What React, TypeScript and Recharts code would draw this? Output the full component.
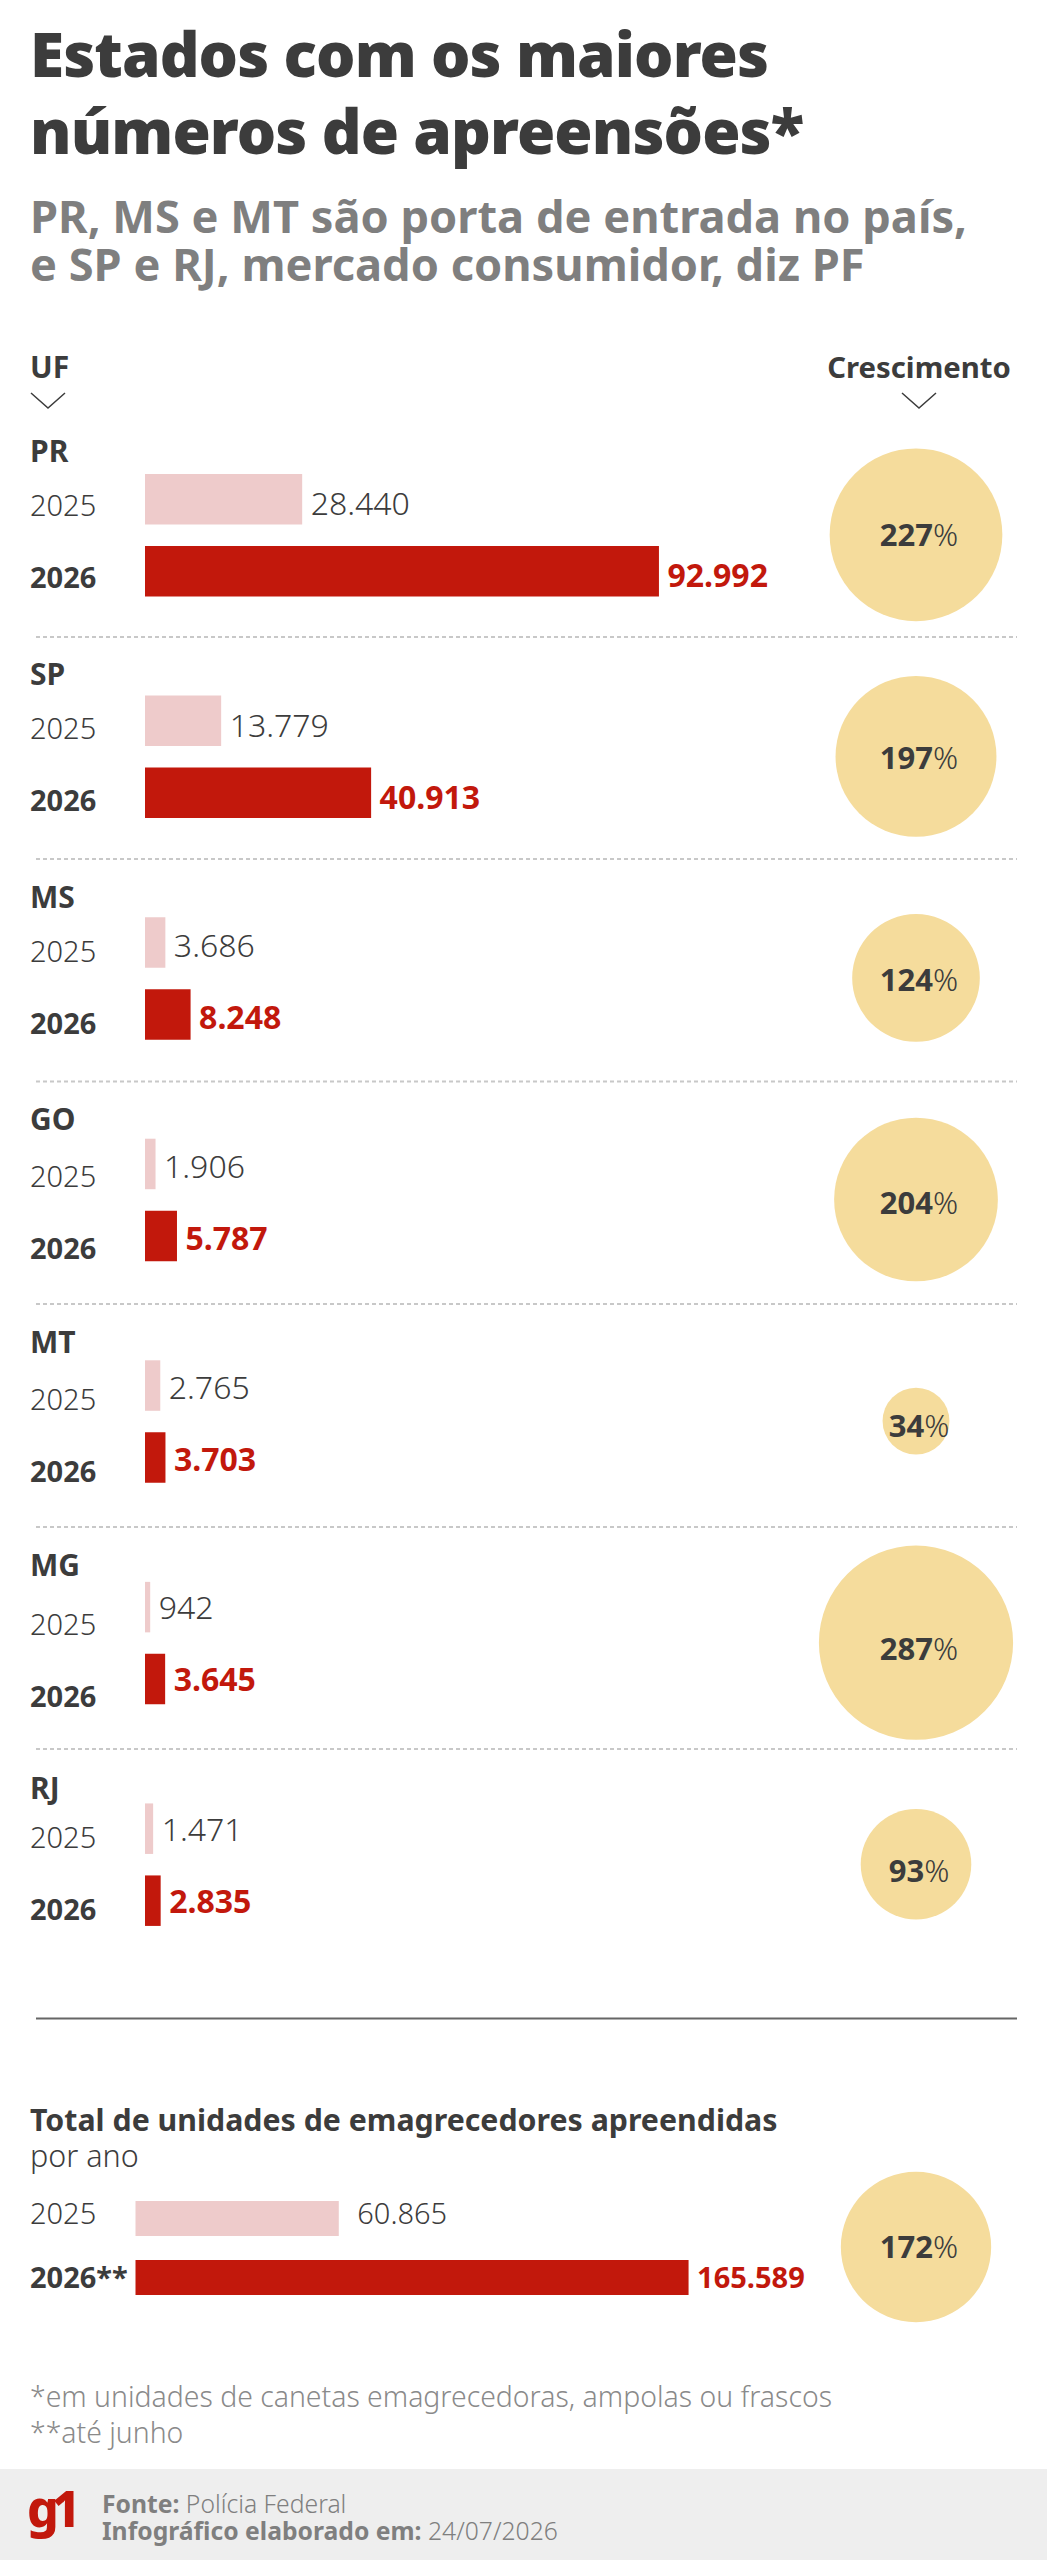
import React from 'react';
import {
  Bar,
  BarChart,
  Cell,
  LabelList,
  Scatter,
  ScatterChart,
  XAxis,
  YAxis,
  ZAxis,
} from 'recharts';

const ufs = ['PR', 'SP', 'MS', 'GO', 'MT', 'MG', 'RJ'];
const values2025 = [28440, 13779, 3686, 1906, 2765, 942, 1471];
const values2026 = [92992, 40913, 8248, 5787, 3703, 3645, 2835];
const growth = [227, 197, 124, 204, 34, 287, 93];

const totalYears = ['2025', '2026**'];
const totalValues = [60865, 165589];
const totalGrowth = 172;

const CHART_TOP = 424;
const ufBaselines = [462, 685, 908, 1130, 1353, 1576, 1799];
const yearOffsets = [17, 19, 20.5, 23, 24.5, 28, 20];
const valueOffsets = [16, 16, 15, 14.5, 13, 11.5, 12];
const pctOffsets = [11, 12.6, 13.4, 14, 16.4, 17, 17.6];
const separators = [637, 859, 1081.5, 1304, 1527, 1749];

const FONT = '"Noto Sans", sans-serif';
const DARK = '#3c3c3c';
const GREY = '#7f7f7f';
const RED = '#c2180c';
const PINK = '#eecbcb';
const SAND = '#f5dc9c';

const rows = ufs.map((uf, i) => ({
  uf,
  column: 'Crescimento',
  v2025: values2025[i],
  v2026: values2026[i],
  growth: growth[i],
}));
const totalRows = totalYears.map((year, i) => ({ year, value: totalValues[i] }));
const totalCircle = [{ uf: 'Total', column: 'Crescimento', growth: totalGrowth }];

const fmt = (n: number) => String(n).replace(/\B(?=(\d{3})+$)/g, '.');

function StateTick({ y, index }: any) {
  const yearY = yearOffsets[index];
  return (
    <g fontFamily={FONT}>
      <text x={30} y={ufBaselines[index] - CHART_TOP} fontSize={30} fontWeight={700} fill={DARK}>
        {ufs[index]}
      </text>
      <text x={30} y={y - 36 + yearY} fontSize={29} fontWeight={300} fill={DARK}>
        2025
      </text>
      <text x={30} y={y + 36 + yearY} fontSize={29} fontWeight={700} fill={DARK}>
        2026
      </text>
    </g>
  );
}

function ValueLabel({ x, y, width, height, value, index, color, weight }: any) {
  return (
    <text
      x={x + width + 8.5}
      y={y + height / 2 + valueOffsets[index]}
      fontFamily={FONT}
      fontSize={32}
      fontWeight={weight}
      fill={color}
    >
      {fmt(value)}
    </text>
  );
}

function PctLabel({ x, y, width, height, value, dy }: any) {
  return (
    <text
      x={x + width / 2 + 3}
      y={y + height / 2 + dy}
      textAnchor="middle"
      fontFamily={FONT}
      fontSize={31}
      fill={DARK}
    >
      <tspan fontWeight={700}>{value}</tspan>
      <tspan fontWeight={300}>%</tspan>
    </text>
  );
}

function TotalTick({ y, payload, index }: any) {
  return (
    <text
      x={30}
      y={y + 5.5 + (index === 0 ? 0 : 5)}
      fontFamily={FONT}
      fontSize={29}
      fontWeight={index === 0 ? 300 : 700}
      fill={DARK}
    >
      {payload.value}
    </text>
  );
}

function TotalValueLabel({ x, y, width, height, value, index }: any) {
  return (
    <text
      x={x + width + (index === 0 ? 18.5 : 8.5)}
      y={y + height / 2 + 5.5 + (index === 0 ? 0 : 5)}
      fontFamily={FONT}
      fontSize={29}
      fontWeight={index === 0 ? 300 : 700}
      fill={index === 0 ? DARK : RED}
    >
      {fmt(value)}
    </text>
  );
}

function Backdrop() {
  return (
    <svg width={1047} height={2560} style={{ position: 'absolute', left: 0, top: 0 }} fontFamily={FONT}>
      <text x={30} y={77} fontSize={62} fontWeight={900} fill={DARK} letterSpacing={-0.9}>Estados com os maiores</text>
      <text x={30} y={154} fontSize={62} fontWeight={900} fill={DARK} letterSpacing={-0.9}>números de apreensões*</text>
      <text x={30} y={233} fontSize={45.2} fontWeight={700} fill={GREY}>PR, MS e MT são porta de entrada no país,</text>
      <text x={30} y={281} fontSize={45.2} fontWeight={700} fill={GREY}>e SP e RJ, mercado consumidor, diz PF</text>

      <text x={30} y={377.5} fontSize={30} fontWeight={700} fill={DARK}>UF</text>
      <text x={919} y={377.5} fontSize={29.3} fontWeight={700} fill={DARK} textAnchor="middle">Crescimento</text>
      <polyline points="31,393 48,408 65,393" fill="none" stroke={DARK} strokeWidth={1.5} />
      <polyline points="902,393 919,408 936,393" fill="none" stroke={DARK} strokeWidth={1.5} />

      {separators.map((y) => (
        <line key={y} x1={36} x2={1017} y1={y} y2={y} stroke="#c8c8c8" strokeWidth={2} strokeDasharray="4 3" />
      ))}
      <line x1={36} x2={1017} y1={2018.5} y2={2018.5} stroke="#666666" strokeWidth={2} />

      <text x={30} y={2130.5} fontSize={30.3} fontWeight={700} fill={DARK}>Total de unidades de emagrecedores apreendidas</text>
      <text x={30} y={2167} fontSize={30.5} fontWeight={300} fill={DARK}>por ano</text>

      <text x={30} y={2406.5} fontSize={28.4} fontWeight={300} fill="#8a8a8a">*em unidades de canetas emagrecedoras, ampolas ou frascos</text>
      <text x={30} y={2442.5} fontSize={28.4} fontWeight={300} fill="#8a8a8a">**até junho</text>

      <rect x={0} y={2469} width={1047} height={91} fill="#eeeeee" />
      <text x={27} y={2527} fontSize={50} fontWeight={800} fill={RED} letterSpacing={-7}>g1</text>
      <text x={102} y={2512.5} fontSize={24.7} fill={GREY}>
        <tspan fontWeight={700}>Fonte: </tspan>
        <tspan fontWeight={300}>Polícia Federal</tspan>
      </text>
      <text x={102} y={2540} fontSize={24.7} fill={GREY}>
        <tspan fontWeight={700}>Infográfico elaborado em: </tspan>
        <tspan fontWeight={300}>24/07/2026</tspan>
      </text>
    </svg>
  );
}

export default function App() {
  return (
    <div
      style={{
        position: 'absolute',
        left: 0,
        top: 0,
        width: 1047,
        height: 2560,
        overflow: 'hidden',
        background: '#ffffff',
      }}
    >
      <Backdrop />

      <div style={{ position: 'absolute', left: 0, top: CHART_TOP }}>
        <BarChart
          width={800}
          height={1551}
          data={rows}
          layout="vertical"
          margin={{ top: 0, right: 36, bottom: 0, left: 0 }}
          barSize={50.5}
          barGap={21.5}
        >
          <XAxis type="number" domain={[0, 112000]} hide />
          <YAxis
            type="category"
            dataKey="uf"
            width={145}
            axisLine={false}
            tickLine={false}
            interval={0}
            tick={<StateTick />}
          />
          <Bar dataKey="v2025" fill={PINK} isAnimationActive={false}>
            <LabelList dataKey="v2025" content={<ValueLabel color={DARK} weight={300} />} />
          </Bar>
          <Bar dataKey="v2026" fill={RED} isAnimationActive={false}>
            <LabelList dataKey="v2026" content={<ValueLabel color={RED} weight={700} />} />
          </Bar>
        </BarChart>
      </div>

      <div style={{ position: 'absolute', left: 785, top: CHART_TOP }}>
        <ScatterChart width={262} height={1551} margin={{ top: 0, right: 0, bottom: 0, left: 0 }}>
          <XAxis type="category" dataKey="column" allowDuplicatedCategory={false} hide />
          <YAxis type="category" dataKey="uf" allowDuplicatedCategory={false} reversed hide />
          <ZAxis type="number" dataKey="growth" domain={[0, 287]} range={[0, 29620]} />
          <Scatter data={rows} fill={SAND} isAnimationActive={false}>
            <LabelList
              dataKey="growth"
              content={(p: any) => <PctLabel {...p} dy={pctOffsets[p.index]} />}
            />
          </Scatter>
        </ScatterChart>
      </div>

      <div style={{ position: 'absolute', left: 0, top: 2189 }}>
        <BarChart
          width={840}
          height={118}
          data={totalRows}
          layout="vertical"
          margin={{ top: 0, right: 36.5, bottom: 0, left: 0 }}
          barSize={35}
        >
          <XAxis type="number" domain={[0, 200000]} hide />
          <YAxis
            type="category"
            dataKey="year"
            width={135.5}
            axisLine={false}
            tickLine={false}
            interval={0}
            tick={<TotalTick />}
          />
          <Bar dataKey="value" isAnimationActive={false}>
            {totalRows.map((r, i) => (
              <Cell key={r.year} fill={i === 0 ? PINK : RED} />
            ))}
            <LabelList dataKey="value" content={<TotalValueLabel />} />
          </Bar>
        </BarChart>
      </div>

      <div style={{ position: 'absolute', left: 785, top: 2147 }}>
        <ScatterChart width={262} height={200} margin={{ top: 0, right: 0, bottom: 0, left: 0 }}>
          <XAxis type="category" dataKey="column" allowDuplicatedCategory={false} hide />
          <YAxis type="category" dataKey="uf" allowDuplicatedCategory={false} hide />
          <ZAxis type="number" dataKey="growth" domain={[0, 287]} range={[0, 29620]} />
          <Scatter data={totalCircle} fill={SAND} isAnimationActive={false}>
            <LabelList
              dataKey="growth"
              content={(p: any) => <PctLabel {...p} dy={11} />}
            />
          </Scatter>
        </ScatterChart>
      </div>
    </div>
  );
}
